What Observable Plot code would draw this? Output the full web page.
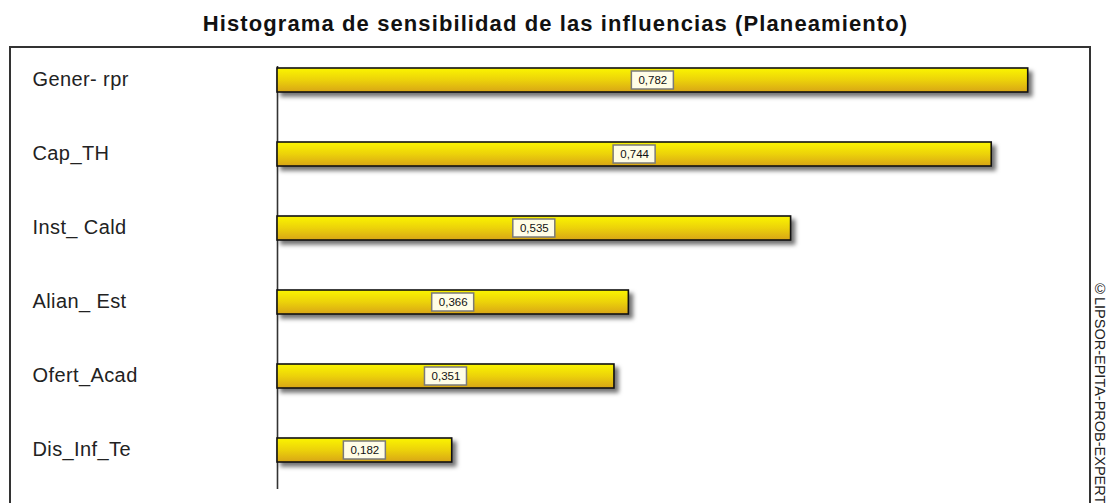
<!DOCTYPE html>
<html>
<head>
<meta charset="utf-8">
<script src="https://cdn.jsdelivr.net/npm/d3@7"></script>
<script src="https://cdn.jsdelivr.net/npm/@observablehq/plot@0.6"></script>
<style>
  html, body { margin: 0; padding: 0; background: #fff; }
  body { width: 1106px; height: 503px; overflow: hidden; position: relative; font-family: "Liberation Sans", Arial, sans-serif; }
  #title { height: 46px; line-height: 48px; width: 1111px; text-align: center; font-weight: bold; font-size: 22px; letter-spacing: 1.1px; color: #111; }
  #frame { position: absolute; left: 9px; top: 46px; width: 1078px; height: 600px; border: 2px solid #333; pointer-events: none; }
  #copy { position: absolute; left: 1092px; top: 281px; writing-mode: vertical-rl; font-size: 14.5px; color: #222; white-space: nowrap; }
</style>
</head>
<body>
<div id="title">Histograma de sensibilidad de las influencias (Planeamiento)</div>
<div id="chart"></div>
<div id="frame"></div>
<div id="copy">©LIPSOR-EPITA-PROB-EXPERT</div>
<script>
const categories = ["Gener- rpr", "Cap_TH", "Inst_ Cald", "Alian_ Est", "Ofert_Acad", "Dis_Inf_Te"];
const values = [0.782, 0.744, 0.535, 0.366, 0.351, 0.182];

const data = categories.map((name, i) => ({name, v: values[i], label: values[i].toFixed(3).replace(".", ",")}));

const plot = Plot.plot({
  width: 1106,
  height: 457,
  marginLeft: 277,
  marginRight: 61,
  marginTop: 20,
  marginBottom: 14,
  style: {fontFamily: "'Liberation Sans', Arial, sans-serif", background: "transparent", overflow: "visible"},
  x: {domain: [0, 0.8], axis: null},
  y: {domain: categories, range: [-5.3, 442.3], paddingInner: 0.678, paddingOuter: 0.339, label: null},
  marks: [
    Plot.axisY({tickSize: 0, textAnchor: "start", dx: -236, dy: -1, fontSize: 20, fill: "#222", label: null}),
    Plot.ruleX([0], {stroke: "#333", strokeWidth: 1.6}),
    Plot.barX(data, {x: "v", y: "name", fill: "url(#bargrad)", stroke: "#111", strokeWidth: 1.6}),
    Plot.barX(data, {x1: d => d.v / 2, x2: d => d.v / 2, y: "name", insetLeft: -21, insetRight: -21, insetTop: 3, insetBottom: 3, fill: "#fffde6", stroke: "#7a7a7a", strokeWidth: 1.5}),
    Plot.text(data, {x: d => d.v / 2, y: "name", text: "label", fontSize: 11.5, fill: "#111"})
  ]
});

document.getElementById("chart").appendChild(plot);

// subtle letter spacing on category labels to match the reference width
plot.querySelectorAll('g[aria-label="y-axis tick label"] text').forEach(t => t.style.letterSpacing = "0.4px");

const svg = d3.select(plot);
const defs = svg.insert("defs", ":first-child");
const g = defs.append("linearGradient").attr("id", "bargrad").attr("x1", 0).attr("y1", 0).attr("x2", 0).attr("y2", 1);
g.append("stop").attr("offset", "0%").attr("stop-color", "#fbf500");
g.append("stop").attr("offset", "50%").attr("stop-color", "#ecd20a");
g.append("stop").attr("offset", "100%").attr("stop-color", "#d8a516");

// drop shadow on the main bars only
const barGroups = plot.querySelectorAll('g[aria-label="bar"]');
if (barGroups.length) barGroups[0].style.filter = "drop-shadow(4px 4px 2px rgba(0,0,0,0.55))";
</script>
</body>
</html>
